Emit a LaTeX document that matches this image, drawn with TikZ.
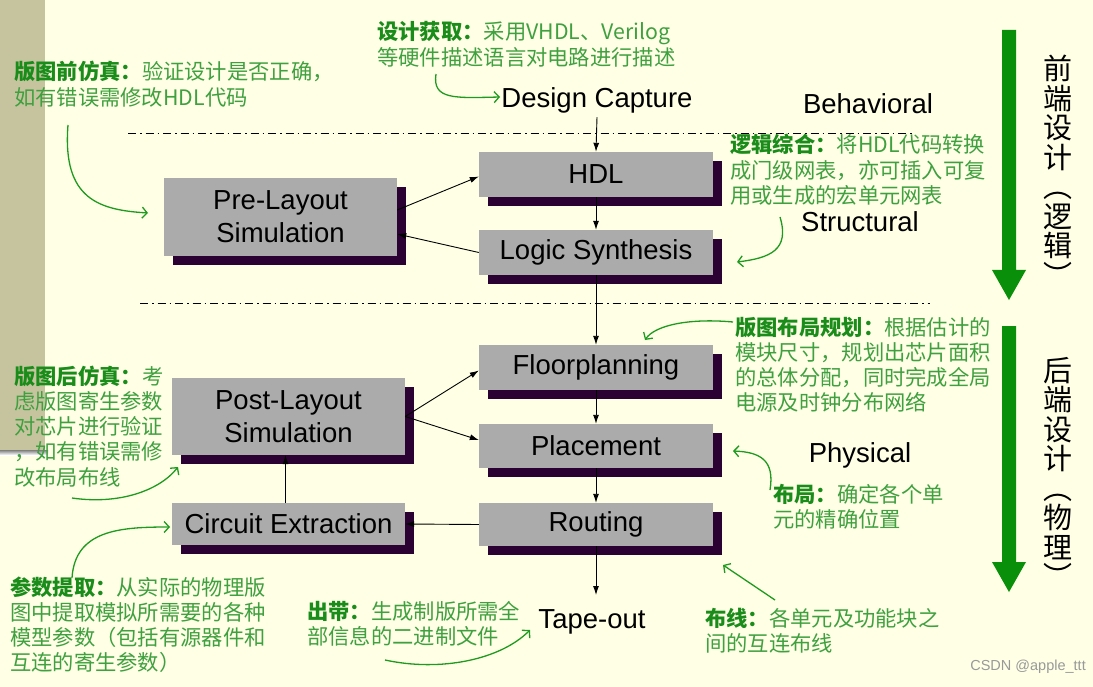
\documentclass[tikz,border=0pt]{standalone}
\usepackage{fontspec}
\setmainfont{Liberation Sans}
\newfontfamily\cjk{Noto Sans CJK SC}
\usetikzlibrary{arrows.meta,shadows}
\definecolor{bg}{HTML}{FFFFE6}
\definecolor{band}{HTML}{C6C49E}
\definecolor{boxgray}{HTML}{ABABAB}
\definecolor{shade}{HTML}{2B0033}
\definecolor{gtitle}{HTML}{1A8C1A}
\definecolor{gbody}{HTML}{3FA03F}
\definecolor{gline}{HTML}{1E9A1E}
\definecolor{bigg}{HTML}{0A8F0A}
\newcommand{\ttl}[1]{{\bfseries\color{gtitle}#1}}
\begin{document}
\begin{tikzpicture}[x=1pt,y=-1pt,
  box/.style={fill=boxgray, inner sep=0pt, align=center,
    font=\fontsize{27.5}{33}\selectfont,
    drop shadow={shadow xshift=9pt, shadow yshift=-9pt, fill=shade, opacity=1}},
  lbl/.style={font=\fontsize{27.5}{30}\selectfont, inner sep=0pt},
  arr/.style={-{Latex[length=9pt,width=6pt]}, line width=0.9pt},
  garr/.style={gline, line width=1.3pt, -{Straight Barb[length=5pt,width=11pt]}},
  note/.style={anchor=base west, align=left, inner sep=0pt, text=gbody,
    font=\cjk\fontsize{21.3}{25.3}\selectfont},
  vtxt/.style={anchor=north, align=center, inner sep=0pt,
    font=\cjk\fontsize{29}{29.5}\selectfont},
  dd/.style={line width=0.6pt, dash pattern=on 8pt off 4pt on 1.5pt off 4pt}
]
\useasboundingbox (0,0) rectangle (1093,687);
\fill[bg] (0,0) rectangle (1093,687);
\fill[band] (0,0) rectangle (45,450);
\fill[shade] (0,450) rectangle (48,455);

% dash-dot separators
\draw[dd] (128,133) -- (915,133);
\draw[dd] (140,303) -- (930,303);

% labels
\node[lbl] (dc) at (597,100) {Design Capture};
\node[lbl] (beh) at (868,104) {Behavioral};
\node[lbl] (str) at (860,222) {Structural};
\node[lbl] (phy) at (860,455) {Physical};
\node[lbl] (tape) at (592,622) {Tape-out};

% boxes
\node[box, minimum width=234pt, minimum height=45pt] (hdl) at (596,174.5) {HDL};
\node[box, minimum width=234pt, minimum height=45pt] (logic) at (596,252.5) {Logic Synthesis};
\node[box, minimum width=233pt, minimum height=78pt] (pre) at (280.5,217) {Pre-Layout\\Simulation};
\node[box, minimum width=234pt, minimum height=45pt] (floor) at (596,367.5) {Floorplanning};
\node[box, minimum width=234pt, minimum height=44pt] (place) at (596,446) {Placement};
\node[box, minimum width=234pt, minimum height=43pt] (route) at (596,524.5) {Routing};
\node[box, minimum width=233pt, minimum height=77pt] (post) at (288.5,416.5) {Post-Layout\\Simulation};
\node[box, minimum width=233pt, minimum height=42pt] (circ) at (288.5,524) {Circuit Extraction};
\coordinate (tp) at (596,595);

% black connectors
\draw[arr] ([yshift=-4pt]dc.south) -- (hdl.north);
\draw[arr] (hdl.south) -- (logic.north);
\draw[arr] (logic.south) -- (floor.north);
\draw[arr] (floor.south) -- (place.north);
\draw[arr] (place.south) -- (route.north);
\draw[arr] (route.south) -- (tp);
\draw[arr] ([yshift=7pt]pre.east) -- ([yshift=-2pt]hdl.west);
\draw[arr] (logic.west) -- ([yshift=-17pt]pre.east);
\draw[arr] (post.east) -- ([yshift=-3pt]floor.west);
\draw[arr] (post.east) -- ([yshift=6pt]place.west);
\draw[arr] (route.west) -- (circ.east);
\draw[arr] ([xshift=-3pt]circ.north) -- ([xshift=-3pt]post.south);

% big green arrows
\fill[bigg] (1002,30) -- (1016,30) -- (1016,270) -- (1026,270) -- (1009,300) -- (992,270) -- (1002,270) -- cycle;
\fill[bigg] (1002,326) -- (1016,326) -- (1016,562) -- (1026,562) -- (1009,592) -- (992,562) -- (1002,562) -- cycle;
\node[vtxt] (v1) at (1058,55) {前\\端\\设\\计\\︵\\逻\\辑\\︶};
\node[vtxt] (v2) at (1058,357) {后\\端\\设\\计\\︵\\物\\理\\︶};

% annotations (anchor = baseline of the last line)
\node[note] (n1) at (377,65.3) {\ttl{设计获取：}采用VHDL、Verilog\\等硬件描述语言对电路进行描述};
\node[note] (n2) at (14,105.3) {\ttl{版图前仿真：}验证设计是否正确，\\如有错误需修改HDL代码};
\node[note] (n3) at (730,203.6) {\ttl{逻辑综合：}将HDL代码转换\\成门级网表，亦可插入可复\\用或生成的宏单元网表};
\node[note] (n4) at (735,410.9) {\ttl{版图布局规划：}根据估计的\\模块尺寸，规划出芯片面积\\的总体分配，同时完成全局\\电源及时钟分布网络};
\node[note] (n5) at (14,485.2) {\ttl{版图后仿真：}考\\虑版图寄生参数\\对芯片进行验证\\，如有错误需修\\改布局布线};
\node[note] (n6) at (773,527.3) {\ttl{布局：}确定各个单\\元的精确位置};
\node[note] (n7) at (10,670.9) {\ttl{参数提取：}从实际的物理版\\图中提取模拟所需要的各种\\模型参数（包括有源器件和\\互连的寄生参数）};
\node[note] (n8) at (307,644.3) {\ttl{出带：}生成制版所需全\\部信息的二进制文件};
\node[note] (n9) at (705,651.3) {\ttl{布线：}各单元及功能块之\\间的互连布线};

% green pointer arrows
\draw[garr] (436,74) .. controls (432,100) and (455,98) .. (500,97);
\draw[garr] (68,125) .. controls (62,200) and (100,210) .. (148,213);
\draw[garr] (780,217) .. controls (790,250) and (770,258) .. (737,262);
\draw[garr] (733,322) .. controls (690,318) and (655,325) .. (645,340);
\draw[garr] (72,498) .. controls (120,505) and (160,490) .. (178,467);
\draw[garr] (72,578) .. controls (75,530) and (120,527) .. (170,527);
\draw[garr] (770,490) .. controls (775,460) and (760,452) .. (733,451);
\draw[garr] (775,600) -- (723,565);
\draw[garr] (385,660) .. controls (440,672) and (500,660) .. (530,630);

\node[anchor=east, text=black!40, font=\fontsize{14.5}{16}\selectfont, inner sep=0pt] (wm) at (1086,667) {CSDN @apple\_ttt};
\end{tikzpicture}
\end{document}
